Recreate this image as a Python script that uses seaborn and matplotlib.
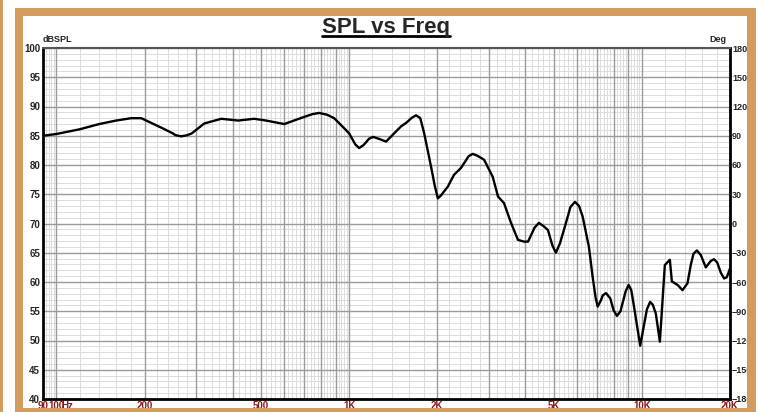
import matplotlib
matplotlib.use('Agg')
import matplotlib.pyplot as plt
import matplotlib.ticker as mticker
import matplotlib.transforms as mtransforms
from matplotlib.patches import Rectangle
from matplotlib.lines import Line2D
import numpy as np
import pandas as pd
import seaborn as sns

# данные
freq = [90, 100, 120, 140, 160, 180, 195, 230, 250, 255, 267, 280, 290, 320, 366,
        418, 474, 520, 600, 700, 750, 790, 840, 889, 961, 1000, 1050, 1082, 1120,
        1170, 1208, 1260, 1337, 1504, 1566, 1640, 1693, 1750, 1803, 1905, 1960,
        2009, 2060, 2173, 2280, 2410, 2560, 2642, 2740, 2890, 3093,
        3226, 3380, 3573, 3774, 3955, 4084, 4300, 4450, 4600, 4775, 4950, 5085,
        5250, 5503, 5700, 5907, 6100, 6275, 6593, 6788, 6950, 7063, 7250, 7350,
        7541, 7800, 8000, 8219, 8450, 8800, 9012, 9200, 9400, 9869, 10400, 10670,
        10900, 11160, 11520, 11980, 12460, 12660, 13240, 13770, 14320, 14690,
        15000, 15410, 15900, 16530, 17200, 17640, 18100, 18600, 19100, 19500, 20000]
spl = [85.0, 85.3, 86.1, 87.0, 87.6, 88.0, 88.0, 86.3, 85.4, 85.1, 84.9, 85.1, 85.4, 87.1, 87.9,
       87.6, 87.9, 87.6, 87.0, 88.2, 88.7, 88.9, 88.6, 88.0, 86.3, 85.4, 83.5, 82.9, 83.4,
       84.5, 84.8, 84.5, 84.0, 86.6, 87.2, 88.1, 88.5, 88.0, 85.5, 79.7, 76.5,
       74.3, 74.8, 76.3, 78.3, 79.5, 81.5, 81.9, 81.6, 80.9, 78.0,
       74.6, 73.5, 70.1, 67.2, 66.9, 66.9, 69.3, 70.1, 69.6, 68.9, 66.2, 65.0,
       66.6, 70.1, 72.8, 73.7, 73.0, 71.2, 66.0, 60.9, 57.3, 55.8, 56.9, 57.7,
       58.1, 57.2, 55.2, 54.2, 55.0, 58.4, 59.5, 58.6, 55.8, 49.1, 55.3, 56.6,
       56.1, 54.6, 49.8, 62.9, 63.8, 60.1, 59.5, 58.6, 59.8, 62.9,
       64.8, 65.4, 64.6, 62.5, 63.6, 63.9, 63.3, 61.6, 60.6, 60.8, 62.3]

x_labels = {90: "90", 100: "100", 200: "200", 500: "500", 1000: "1K",
            2000: "2K", 5000: "5K", 10000: "10K", 20000: "20K"}
left_ticks = [40, 45, 50, 55, 60, 65, 70, 75, 80, 85, 90, 95, 100]
right_ticks = [-180, -150, -120, -90, -60, -30, 0, 30, 60, 90, 120, 150, 180]

df = pd.DataFrame({"freq": freq, "spl": spl})

sns.set_style("white")
plt.rcParams['font.family'] = ['Liberation Sans', 'DejaVu Sans']

W, H = 760, 412
fig = plt.figure(figsize=(W / 100, H / 100), dpi=100)
fig.patch.set_facecolor("white")
ax = fig.add_axes([43 / W, 1 - 399 / H, (730 - 43) / W, (399 - 48) / H])

# сетка
major_x = [m * 10 ** d for d in (2, 3) for m in range(1, 10)] + [10000, 20000]
minor_x = [v for d in (1, 2, 3, 4) for v in np.arange(1.0, 10.0, 0.2) * 10 ** d]
for v in minor_x:
    if 88 <= v <= 20000:
        ax.axvline(v, color="#dcdcdc", lw=0.7, zorder=0)
for v in range(40, 101):
    ax.axhline(v, color="#dcdcdc", lw=0.7, zorder=0)
for v in major_x:
    ax.axvline(v, color="#9a9a9a", lw=1.0, zorder=1)
for v in left_ticks:
    ax.axhline(v, color="#9a9a9a", lw=1.0, zorder=1)

sns.lineplot(data=df, x="freq", y="spl", ax=ax, color="black", lw=1.7, zorder=3)
for ln in ax.get_lines()[-1:]:
    ln.set_solid_joinstyle("round")
    ln.set_solid_capstyle("round")

ax.set_xscale("log")
ax.set_xlim(90, 20000)
ax.set_ylim(40, 100)
ax.set_xlabel("")
ax.set_ylabel("")

ax.xaxis.set_major_locator(mticker.FixedLocator(list(x_labels.keys())))
ax.xaxis.set_major_formatter(mticker.FuncFormatter(lambda v, p: x_labels.get(int(round(v)), "")))
ax.xaxis.set_minor_locator(mticker.NullLocator())
ax.set_yticks(left_ticks)
ax.tick_params(axis="x", length=0, pad=1.5, labelsize=7, labelcolor="#8b1a1a")
ax.tick_params(axis="y", length=0, pad=2, labelsize=7)
for lab in ax.get_xticklabels() + ax.get_yticklabels():
    lab.set_fontweight("bold")

ax.text(104, -0.006, "Hz", transform=mtransforms.blended_transform_factory(ax.transData, ax.transAxes),
        fontsize=7, fontweight="bold", color="#8b1a1a", va="top", ha="left")

for s in ("left", "bottom", "right"):
    ax.spines[s].set_color("black")
    ax.spines[s].set_linewidth(2)
ax.spines["top"].set_color("#555555")
ax.spines["top"].set_linewidth(1.5)

ax2 = ax.twinx()
ax2.set_ylim(-180, 180)
ax2.set_yticks(right_ticks)
ax2.tick_params(axis="y", length=0, pad=1.5, labelsize=6.5)
for lab in ax2.get_yticklabels():
    lab.set_fontweight("bold")
ax2.grid(False)
for s in ax2.spines.values():
    s.set_visible(False)

ax.text(0.0, 1.012, "dBSPL", transform=ax.transAxes, fontsize=6.5, fontweight="bold", ha="left", va="bottom")
ax.text(0.995, 1.012, "Deg", transform=ax.transAxes, fontsize=6.5, fontweight="bold", ha="right", va="bottom")

# заголовок с подчёркиванием
title = fig.text(386 / W, 1 - 33 / H, "SPL vs Freq", fontsize=16, fontweight="bold", ha="center", va="baseline")
fig.canvas.draw()
bb = title.get_window_extent(fig.canvas.get_renderer())
fig.add_artist(Line2D([bb.x0 / W, bb.x1 / W], [1 - 36 / H, 1 - 36 / H], color="black", lw=2))

# рамка
tan = "#d39b5c"
for (x0, y0, x1, y1) in [(15, 8, 23, 412), (15, 8, 756, 16), (747, 8, 756, 412), (15, 408, 756, 412), (0, 0, 3, 412)]:
    fig.add_artist(Rectangle((x0 / W, 1 - y1 / H), (x1 - x0) / W, (y1 - y0) / H,
                             transform=fig.transFigure, facecolor=tan, edgecolor="none", zorder=10))

fig.savefig("out.png", dpi=100)
plt.close(fig)
